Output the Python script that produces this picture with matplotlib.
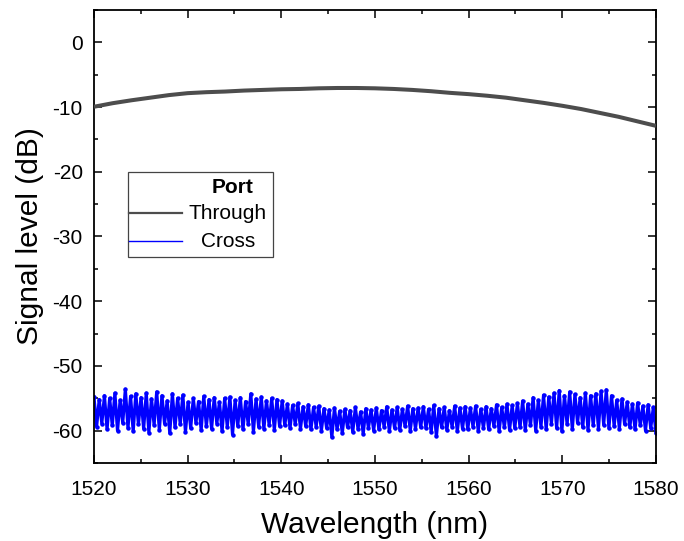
import numpy as np
import matplotlib
matplotlib.use("Agg")
import matplotlib.pyplot as plt
from matplotlib.patches import Rectangle
from matplotlib.lines import Line2D
from matplotlib.ticker import MultipleLocator

plt.rcParams['font.family'] = ['Liberation Sans', 'DejaVu Sans']
plt.rcParams['axes.unicode_minus'] = False

# Through port: smooth transmission curve (nm, dB)
through_wl = [1520, 1522, 1524, 1526, 1528, 1530, 1532, 1534, 1536, 1538,
              1540, 1542, 1544, 1546, 1548, 1550, 1552, 1554, 1556, 1558,
              1560, 1562, 1564, 1566, 1568, 1570, 1572, 1574, 1576, 1578, 1580]
through_db = [-9.95, -9.4, -8.95, -8.55, -8.15, -7.85, -7.7, -7.6, -7.45, -7.35,
              -7.25, -7.2, -7.1, -7.05, -7.05, -7.1, -7.2, -7.35, -7.55, -7.8,
              -8.0, -8.25, -8.55, -8.95, -9.35, -9.8, -10.3, -10.9, -11.5, -12.2, -12.9]

# Cross port: fringe maxima and minima (dB), one pair per fringe, 1520 -> 1580 nm
cross_peaks = [
    -54.8, -55.2, -54.6, -55.0, -54.2, -55.3, -53.6, -54.7, -54.3,
    -54.9, -54.2, -55.1, -54.0, -54.6, -55.4, -54.3, -55.0, -54.5,
    -55.6, -55.0, -55.5, -54.7, -55.2, -54.9, -55.6, -55.0, -54.8,
    -55.3, -54.9, -55.5, -54.3, -55.1, -54.8, -55.4, -55.0, -55.2,
    -55.4, -55.9, -56.1, -55.8, -56.3, -56.0, -56.4, -56.2, -56.6,
    -56.8, -56.5, -57.0, -56.7, -56.9, -56.4, -57.1, -56.6, -56.8,
    -56.5, -56.9, -56.3, -56.8, -56.4, -56.7, -56.2, -56.6, -56.5,
    -56.3, -56.7, -56.1, -56.6, -56.4, -56.9, -56.2, -56.5, -56.3,
    -56.5, -56.2, -56.7, -56.3, -56.6, -56.0, -56.4, -55.9, -56.1,
    -55.8, -55.4, -55.9, -54.9, -55.3, -54.5, -54.8, -54.2, -53.8,
    -54.6, -54.0, -54.4, -54.9, -54.2, -54.6, -54.3, -53.9, -53.7,
    -54.6, -55.3, -55.1, -55.6, -55.9, -55.7, -56.2, -56.0, -56.4,
]
cross_troughs = [
    -59.4, -58.9, -59.8, -59.2, -60.0, -58.8, -59.6, -60.1, -59.0,
    -59.7, -60.3, -59.1, -59.9, -58.9, -60.4, -59.5, -59.0, -60.2,
    -59.6, -58.8, -59.9, -59.3, -59.7, -58.9, -60.1, -59.4, -60.6,
    -59.3, -59.8, -59.0, -60.2, -59.4, -59.7, -59.1, -59.9, -59.3,
    -59.2, -59.6, -59.0, -59.7, -59.3, -59.8, -59.4, -60.0, -59.6,
    -61.0, -59.8, -60.4, -59.5, -60.2, -59.7, -60.5, -59.6, -60.0,
    -59.8, -59.4, -60.1, -59.6, -59.9, -59.3, -60.0, -59.7, -59.5,
    -59.6, -60.2, -60.9, -59.5, -59.9, -59.4, -60.1, -59.7, -59.8,
    -59.4, -60.0, -59.6, -59.8, -59.3, -60.1, -59.5, -59.9, -59.6,
    -59.5, -59.9, -59.2, -60.0, -59.4, -59.8, -58.9, -59.6, -60.1,
    -59.0, -59.8, -58.8, -59.5, -59.9, -59.2, -59.7, -59.1, -59.6,
    -59.3, -59.7, -59.0, -59.5, -59.8, -59.2, -60.0, -59.6, -60.3,
]

cross_db = np.ravel(np.column_stack([cross_peaks, cross_troughs]))
cross_wl = np.linspace(1520, 1580, cross_db.size)

fig = plt.figure(figsize=(6.84, 5.41), dpi=100)
ax = fig.add_axes([0.1374, 0.1442, 0.8216, 0.8373])

ax.plot(through_wl, through_db, color='#4d4d4d', lw=2.9, solid_capstyle='butt', zorder=3)
ax.plot(cross_wl, cross_db, color='#0000ff', lw=2.3, marker='o', ms=3.2,
        markeredgewidth=0, zorder=2)

ax.set_xlim(1520, 1580)
ax.set_ylim(-65, 5)
ax.xaxis.set_major_locator(MultipleLocator(10))
ax.xaxis.set_minor_locator(MultipleLocator(5))
ax.yaxis.set_major_locator(MultipleLocator(10))
ax.yaxis.set_minor_locator(MultipleLocator(5))

ax.tick_params(which='both', direction='in', top=True, right=True, width=1.1,
               labelsize=15, pad=8, colors='black')
ax.tick_params(axis='x', which='both', pad=12)
ax.tick_params(which='major', length=5.8)
ax.tick_params(which='minor', length=3.2)
for s in ax.spines.values():
    s.set_linewidth(1.3)

ax.set_xlabel('Wavelength (nm)', fontsize=21.5, labelpad=9)
ax.set_ylabel('Signal level (dB)', fontsize=21.5, labelpad=6)

# legend block
tr = ax.transAxes
ax.add_patch(Rectangle((0.0605, 0.4547), 0.258, 0.1873, transform=tr,
                       facecolor='white', edgecolor='#444444', lw=0.9, zorder=5))
ax.text(0.247, 0.609, 'Port', transform=tr, ha='center', va='center',
        fontsize=15, fontweight='bold', zorder=6)
ax.add_line(Line2D([0.0625, 0.157], [0.551, 0.551], transform=tr,
                   color='#4d4d4d', lw=1.6, zorder=6))
ax.text(0.237, 0.551, 'Through', transform=tr, ha='center', va='center',
        fontsize=15, zorder=6)
ax.add_line(Line2D([0.0625, 0.157], [0.49, 0.49], transform=tr,
                   color='#0000ff', lw=1.0, zorder=6))
ax.text(0.2385, 0.49, 'Cross', transform=tr, ha='center', va='center',
        fontsize=15, zorder=6)

fig.savefig('out.png', dpi=100)
